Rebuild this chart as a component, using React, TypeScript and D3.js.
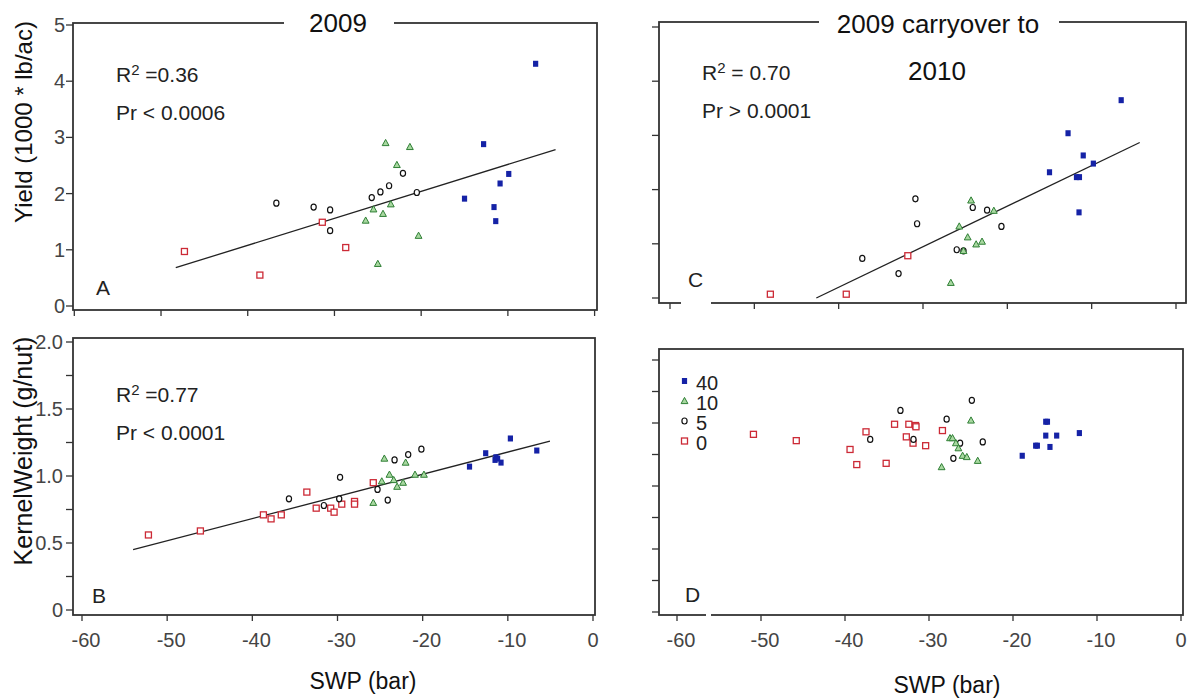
import React from "react";
import * as d3 from "d3";

type Pt = [number, number];

// Shared axis ticks
const xTicks = [-60, -50, -40, -30, -20, -10, 0];
const yieldTicks = [0, 1, 2, 3, 4, 5];
const kernelTicks = [0, 0.25, 0.5, 0.75, 1, 1.25, 1.5, 1.75, 2];
const kernelLabelValues = [0, 0.5, 1, 1.5, 2];
const kernelLabelText = ["0", "0.5", "1.0", "1.5", "2.0"];
const legendLevels = ["40", "10", "5", "0"];

// A: 2009 yield vs SWP
const yieldA_40: Pt[] = [[-6.8, 4.31], [-12.8, 2.88], [-9.9, 2.35], [-10.9, 2.18], [-15.0, 1.91], [-11.6, 1.76], [-11.4, 1.51]];
const yieldA_10: Pt[] = [[-24.1, 2.9], [-21.3, 2.83], [-22.8, 2.51], [-23.5, 1.81], [-25.5, 1.72], [-24.4, 1.64], [-26.4, 1.52], [-20.3, 1.25], [-25.0, 0.75]];
const yieldA_5: Pt[] = [[-36.7, 1.83], [-32.4, 1.76], [-30.5, 1.71], [-30.5, 1.34], [-25.7, 1.93], [-24.7, 2.03], [-23.7, 2.14], [-22.1, 2.36], [-20.5, 2.02]];
const yieldA_0: Pt[] = [[-47.3, 0.97], [-38.6, 0.55], [-31.4, 1.49], [-28.7, 1.04]];

// B: 2009 kernel weight vs SWP
const kernelB_40: Pt[] = [[-14.5, 1.07], [-12.6, 1.17], [-11.4, 1.14], [-11.2, 1.13], [-11.5, 1.12], [-10.8, 1.1], [-9.7, 1.28], [-6.6, 1.19]];
const kernelB_10: Pt[] = [[-24.5, 1.13], [-22.0, 1.1], [-23.9, 1.01], [-24.8, 0.96], [-23.4, 0.97], [-22.3, 0.95], [-23.0, 0.92], [-20.9, 1.01], [-19.85, 1.01], [-25.8, 0.8]];
const kernelB_5: Pt[] = [[-35.7, 0.83], [-31.6, 0.78], [-29.8, 0.83], [-29.7, 0.99], [-25.3, 0.9], [-24.1, 0.82], [-23.3, 1.12], [-21.7, 1.16], [-20.15, 1.2]];
const kernelB_0: Pt[] = [[-52.2, 0.56], [-46.1, 0.59], [-38.7, 0.71], [-37.8, 0.68], [-36.6, 0.71], [-33.6, 0.88], [-32.5, 0.76], [-30.8, 0.76], [-30.4, 0.73], [-29.5, 0.79], [-28.0, 0.81], [-28.0, 0.79], [-25.8, 0.95]];

// C: 2009 carryover to 2010 yield vs SWP
const yieldC_40: Pt[] = [[-6.5, 3.65], [-12.8, 3.04], [-11.0, 2.63], [-9.8, 2.48], [-15.0, 2.32], [-11.8, 2.23], [-11.45, 2.23], [-11.5, 1.58]];
const yieldC_10: Pt[] = [[-24.3, 1.8], [-21.6, 1.61], [-25.7, 1.32], [-24.7, 1.12], [-23.7, 0.99], [-23.0, 1.04], [-25.2, 0.87], [-26.7, 0.28]];
const yieldC_5: Pt[] = [[-37.2, 0.73], [-32.9, 0.45], [-30.9, 1.83], [-30.7, 1.37], [-26.0, 0.89], [-25.2, 0.87], [-24.1, 1.67], [-22.4, 1.62], [-20.7, 1.32]];
const yieldC_0: Pt[] = [[-48.1, 0.07], [-39.1, 0.07], [-31.8, 0.78]];

// D: 2009 carryover to 2010 kernel weight vs SWP
const kernelD_40: Pt[] = [[-18.9, 1.24], [-17.3, 1.32], [-17.1, 1.32], [-16.1, 1.51], [-15.9, 1.51], [-16.1, 1.4], [-14.8, 1.4], [-15.6, 1.31], [-12.1, 1.42]];
const kernelD_10: Pt[] = [[-25.0, 1.52], [-27.5, 1.38], [-27.2, 1.38], [-26.8, 1.34], [-26.5, 1.3], [-26.0, 1.24], [-25.5, 1.23], [-24.2, 1.2], [-28.5, 1.15]];
const kernelD_5: Pt[] = [[-37.0, 1.37], [-33.4, 1.6], [-31.85, 1.37], [-27.9, 1.53], [-27.1, 1.22], [-26.3, 1.34], [-24.9, 1.68], [-23.6, 1.35]];
const kernelD_0: Pt[] = [[-50.9, 1.41], [-45.8, 1.36], [-39.4, 1.29], [-38.6, 1.17], [-37.5, 1.43], [-35.1, 1.18], [-34.1, 1.49], [-32.7, 1.39], [-32.4, 1.49], [-31.9, 1.34], [-31.6, 1.48], [-31.55, 1.47], [-30.4, 1.32], [-28.4, 1.44]];

// Fitted lines: [intercept, slope, xStart, xEnd]
const fitA = [3.0, 0.048, -48.3, -4.5];
const fitB = [1.344, 0.01655, -54.0, -5.05];
const fitC = [3.19, 0.0748, -42.65, -4.3];

const FONT = "'Liberation Sans', Arial, sans-serif";
const INK = "#333";

type Series = { level: string; pts: Pt[] };

interface PanelSpec {
  frame: { x0: number; x1: number; y0: number; y1: number };
  xRange: [number, number];
  yDomain: [number, number];
  yRange: [number, number];
  yTicks: number[];
  yLabels?: { values: number[]; text: string[]; right: number };
  xLabels: boolean;
  axisBreak?: [number, number];
  series: Series[];
  fit?: number[];
  letter: { text: string; x: number; y: number };
  stats?: { lines: React.ReactNode[]; x: number; y: number[] };
}

function Marker({ level, x, y }: { level: string; x: number; y: number }) {
  if (level === "0")
    return <rect x={x - 3} y={y - 3} width={6} height={6} fill="white" stroke="#cc2a36" strokeWidth={1.3} />;
  if (level === "5")
    return <ellipse cx={x} cy={y} rx={2.6} ry={3} fill="white" stroke="#111" strokeWidth={1.2} />;
  if (level === "10") {
    const p = `M${x},${y - 3.6}L${x + 3.4},${y + 2.6}L${x - 3.4},${y + 2.6}Z`;
    return <path d={p} fill="#a8d8a0" stroke="#2f7f35" strokeWidth={1} />;
  }
  return <rect x={x - 2.6} y={y - 3} width={5.2} height={6} fill="#1522a6" />;
}

function Panel({ spec }: { spec: PanelSpec }) {
  const { frame } = spec;
  const x = d3.scaleLinear().domain([-60, 0]).range(spec.xRange);
  const y = d3.scaleLinear().domain(spec.yDomain).range(spec.yRange);
  let fitPath: string | null = null;
  if (spec.fit) {
    const [b0, b1, xs, xe] = spec.fit;
    const line = d3
      .line<number>()
      .x((v) => x(v))
      .y((v) => y(b0 + b1 * v));
    fitPath = line([xs, xe]);
  }
  return (
    <g>
      {/* frame */}
      <rect
        x={frame.x0}
        y={frame.y0}
        width={frame.x1 - frame.x0}
        height={frame.y1 - frame.y0}
        fill="none"
        stroke={INK}
        strokeWidth={1.8}
      />
      {spec.axisBreak && (
        <rect
          x={spec.axisBreak[0]}
          y={frame.y1 - 2}
          width={spec.axisBreak[1] - spec.axisBreak[0]}
          height={4}
          fill="white"
        />
      )}
      {/* y ticks */}
      {spec.yTicks.map((t) => (
        <line key={"yt" + t} x1={frame.x0 - 7} x2={frame.x0} y1={y(t)} y2={y(t)} stroke={INK} strokeWidth={1.3} />
      ))}
      {spec.yLabels &&
        spec.yLabels.values.map((v, i) => (
          <text
            key={"yl" + v}
            x={spec.yLabels!.right}
            y={y(v) + 7}
            textAnchor="end"
            fontSize={20}
            fontFamily={FONT}
            fill="#444"
          >
            {spec.yLabels!.text[i]}
          </text>
        ))}
      {/* x ticks */}
      {xTicks.map((t) => (
        <line key={"xt" + t} x1={x(t)} x2={x(t)} y1={frame.y1} y2={frame.y1 + 6} stroke={INK} strokeWidth={1.3} />
      ))}
      {spec.xLabels &&
        xTicks.map((t) => (
          <text
            key={"xl" + t}
            x={x(t) + (t < 0 ? 4 : 0)}
            y={647}
            textAnchor="middle"
            fontSize={20}
            fontFamily={FONT}
            fill="#444"
          >
            {t === 0 ? "0" : String(t)}
          </text>
        ))}
      {fitPath && <path d={fitPath} fill="none" stroke="#222" strokeWidth={1.3} />}
      {spec.series.map((s) =>
        s.pts.map((p, i) => <Marker key={s.level + "-" + i} level={s.level} x={x(p[0])} y={y(p[1])} />)
      )}
      <text x={spec.letter.x} y={spec.letter.y} fontSize={21} fontFamily={FONT} fill="#222">
        {spec.letter.text}
      </text>
      {spec.stats &&
        spec.stats.lines.map((l, i) => (
          <text key={"st" + i} x={spec.stats!.x} y={spec.stats!.y[i]} fontSize={21} fontFamily={FONT} fill="#222">
            {l}
          </text>
        ))}
    </g>
  );
}

const panels: PanelSpec[] = [
  {
    frame: { x0: 73, x1: 597, y0: 23, y1: 310 },
    xRange: [74.3, 594.6],
    yDomain: [0, 5],
    yRange: [306, 25],
    yTicks: yieldTicks,
    yLabels: { values: yieldTicks, text: yieldTicks.map(String), right: 65 },
    xLabels: false,
    series: [
      { level: "0", pts: yieldA_0 },
      { level: "5", pts: yieldA_5 },
      { level: "10", pts: yieldA_10 },
      { level: "40", pts: yieldA_40 },
    ],
    fit: fitA,
    letter: { text: "A", x: 96, y: 295 },
    stats: {
      lines: [
        <>R<tspan fontSize={15} dy={-7}>2</tspan><tspan dy={7}> =0.36</tspan></>,
        "Pr < 0.0006",
      ],
      x: 116,
      y: [82, 120],
    },
  },
  {
    frame: { x0: 73, x1: 595, y0: 338, y1: 615 },
    xRange: [82, 593],
    yDomain: [0, 2],
    yRange: [610, 342],
    yTicks: kernelTicks,
    yLabels: { values: kernelLabelValues, text: kernelLabelText, right: 63 },
    xLabels: true,
    series: [
      { level: "0", pts: kernelB_0 },
      { level: "5", pts: kernelB_5 },
      { level: "10", pts: kernelB_10 },
      { level: "40", pts: kernelB_40 },
    ],
    fit: fitB,
    letter: { text: "B", x: 92, y: 603 },
    stats: {
      lines: [
        <>R<tspan fontSize={15} dy={-7}>2</tspan><tspan dy={7}> =0.77</tspan></>,
        "Pr < 0.0001",
      ],
      x: 116,
      y: [402, 440],
    },
  },
  {
    frame: { x0: 659, x1: 1186, y0: 22, y1: 303 },
    xRange: [670, 1176],
    yDomain: [0, 5],
    yRange: [298, 27],
    yTicks: yieldTicks,
    xLabels: false,
    axisBreak: [681, 711],
    series: [
      { level: "0", pts: yieldC_0 },
      { level: "5", pts: yieldC_5 },
      { level: "10", pts: yieldC_10 },
      { level: "40", pts: yieldC_40 },
    ],
    fit: fitC,
    letter: { text: "C", x: 688, y: 287 },
    stats: {
      lines: [
        <>R<tspan fontSize={15} dy={-7}>2</tspan><tspan dy={7}> = 0.70</tspan></>,
        "Pr > 0.0001",
      ],
      x: 702,
      y: [80, 118],
    },
  },
  {
    frame: { x0: 659, x1: 1183, y0: 349, y1: 615 },
    xRange: [677, 1181],
    yDomain: [0, 2],
    yRange: [612, 360],
    yTicks: kernelTicks,
    xLabels: true,
    axisBreak: [706, 711],
    series: [
      { level: "0", pts: kernelD_0 },
      { level: "5", pts: kernelD_5 },
      { level: "10", pts: kernelD_10 },
      { level: "40", pts: kernelD_40 },
    ],
    letter: { text: "D", x: 685, y: 602 },
  },
];

export default function App() {
  return (
    <div style={{ position: "fixed", left: 0, top: 0 }}>
      <svg width={1193} height={698} viewBox="0 0 1193 698" style={{ display: "block", background: "white" }}>
        <rect width={1193} height={698} fill="white" />
        {panels.map((p, i) => (
          <Panel key={i} spec={p} />
        ))}

        {/* panel titles, cut into the top frame line */}
        <rect x={284} y={14} width={110} height={20} fill="white" />
        <text x={338} y={32} textAnchor="middle" fontSize={26} fontFamily={FONT} fill="#111">
          2009
        </text>
        <rect x={819} y={12} width={240} height={20} fill="white" />
        <text x={938} y={33} textAnchor="middle" fontSize={26} fontFamily={FONT} fill="#111">
          2009 carryover to
        </text>
        <text x={937} y={80} textAnchor="middle" fontSize={26} fontFamily={FONT} fill="#111">
          2010
        </text>

        {/* legend */}
        {legendLevels.map((lv, i) => (
          <g key={"lg" + lv}>
            <Marker level={lv} x={684.5} y={381 + i * 20} />
            <text x={696} y={390 + i * 20} fontSize={20} fontFamily={FONT} fill="#222">
              {lv}
            </text>
          </g>
        ))}

        {/* axis titles */}
        <text
          transform="translate(32,122) rotate(-90)"
          textAnchor="middle"
          fontSize={24}
          fontFamily={FONT}
          fill="#111"
        >
          Yield (1000 * lb/ac)
        </text>
        <text
          transform="translate(32,451) rotate(-90)"
          textAnchor="middle"
          fontSize={25}
          fontFamily={FONT}
          fill="#111"
        >
          KernelWeight (g/nut)
        </text>
        <text x={363} y={689} textAnchor="middle" fontSize={23} fontFamily={FONT} fill="#111">
          SWP (bar)
        </text>
        <text x={947} y={693} textAnchor="middle" fontSize={23} fontFamily={FONT} fill="#111">
          SWP (bar)
        </text>
      </svg>
    </div>
  );
}
